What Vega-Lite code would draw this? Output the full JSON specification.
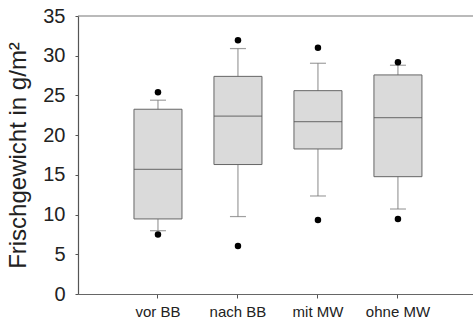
{
  "$schema": "https://vega.github.io/schema/vega-lite/v6.json",
  "autosize": "none",
  "width": 395,
  "height": 278,
  "padding": {"left": 78, "top": 16, "right": 0, "bottom": 26},
  "background": "white",
  "view": {"stroke": "transparent", "strokeWidth": 0},
  "config": {
    "view": {"stroke": "transparent", "strokeWidth": 0},
    "font": "Liberation Sans"
  },
  "datasets": {
    "boxes": [
      {"Gruppe": "vor BB", "lo": 7.97, "q1": 9.45, "med": 15.7, "q3": 23.26, "hi": 24.4},
      {"Gruppe": "nach BB", "lo": 9.75, "q1": 16.3, "med": 22.4, "q3": 27.4, "hi": 30.9},
      {"Gruppe": "mit MW", "lo": 12.34, "q1": 18.26, "med": 21.7, "q3": 25.6, "hi": 29.05},
      {"Gruppe": "ohne MW", "lo": 10.7, "q1": 14.77, "med": 22.2, "q3": 27.58, "hi": 28.8}
    ],
    "outliers": [
      {"Gruppe": "vor BB", "v": 25.4},
      {"Gruppe": "vor BB", "v": 7.5},
      {"Gruppe": "nach BB", "v": 31.95},
      {"Gruppe": "nach BB", "v": 6.05},
      {"Gruppe": "mit MW", "v": 31.0},
      {"Gruppe": "mit MW", "v": 9.32},
      {"Gruppe": "ohne MW", "v": 29.18},
      {"Gruppe": "ohne MW", "v": 9.45}
    ]
  },
  "encoding": {
    "x": {
      "field": "Gruppe",
      "type": "nominal",
      "sort": ["vor BB", "nach BB", "mit MW", "ohne MW"],
      "scale": {"paddingInner": 0.4, "paddingOuter": 0.669, "align": 0.523},
      "axis": {
        "title": null,
        "labelAngle": 0,
        "labelFontSize": 15,
        "labelColor": "#222222",
        "labelPadding": 6,
        "tickSize": 4,
        "tickColor": "#555555",
        "domainColor": "#666666",
        "domainWidth": 1.2
      }
    },
    "y": {
      "type": "quantitative",
      "scale": {"domain": [0, 35], "nice": false},
      "axis": {
        "title": "Frischgewicht in g/m²",
        "titleFontSize": 24,
        "titleFontWeight": "normal",
        "titleColor": "#222222",
        "titlePadding": 12,
        "values": [0, 5, 10, 15, 20, 25, 30, 35],
        "labelOverlap": false,
        "labelFontSize": 20,
        "labelColor": "#222222",
        "labelPadding": 10,
        "tickSize": 3,
        "tickColor": "#555555",
        "domainColor": "#555555",
        "domainWidth": 1.2,
        "grid": false
      }
    }
  },
  "layer": [
    {
      "data": {"name": "boxes"},
      "mark": {"type": "rule", "color": "#888888", "strokeWidth": 1},
      "encoding": {
        "y": {"field": "lo"},
        "y2": {"field": "hi"}
      }
    },
    {
      "data": {"name": "boxes"},
      "mark": {"type": "bar", "width": 48, "fill": "#dadada", "stroke": "#666666", "strokeWidth": 1},
      "encoding": {
        "y": {"field": "q1"},
        "y2": {"field": "q3"}
      }
    },
    {
      "data": {"name": "boxes"},
      "mark": {"type": "tick", "size": 48, "thickness": 1.2, "color": "#555555"},
      "encoding": {"y": {"field": "med"}}
    },
    {
      "data": {"name": "boxes"},
      "mark": {"type": "tick", "size": 16, "thickness": 1.2, "color": "#777777"},
      "encoding": {"y": {"field": "lo"}}
    },
    {
      "data": {"name": "boxes"},
      "mark": {"type": "tick", "size": 16, "thickness": 1.2, "color": "#777777"},
      "encoding": {"y": {"field": "hi"}}
    },
    {
      "data": {"name": "outliers"},
      "mark": {"type": "circle", "size": 42, "color": "#000000", "opacity": 1},
      "encoding": {"y": {"field": "v"}}
    },
    {
      "data": {"values": [{"top": 35}]},
      "mark": {"type": "rule", "color": "#777777", "strokeWidth": 1.2},
      "encoding": {"x": null, "y": {"field": "top", "type": "quantitative"}}
    }
  ]
}
